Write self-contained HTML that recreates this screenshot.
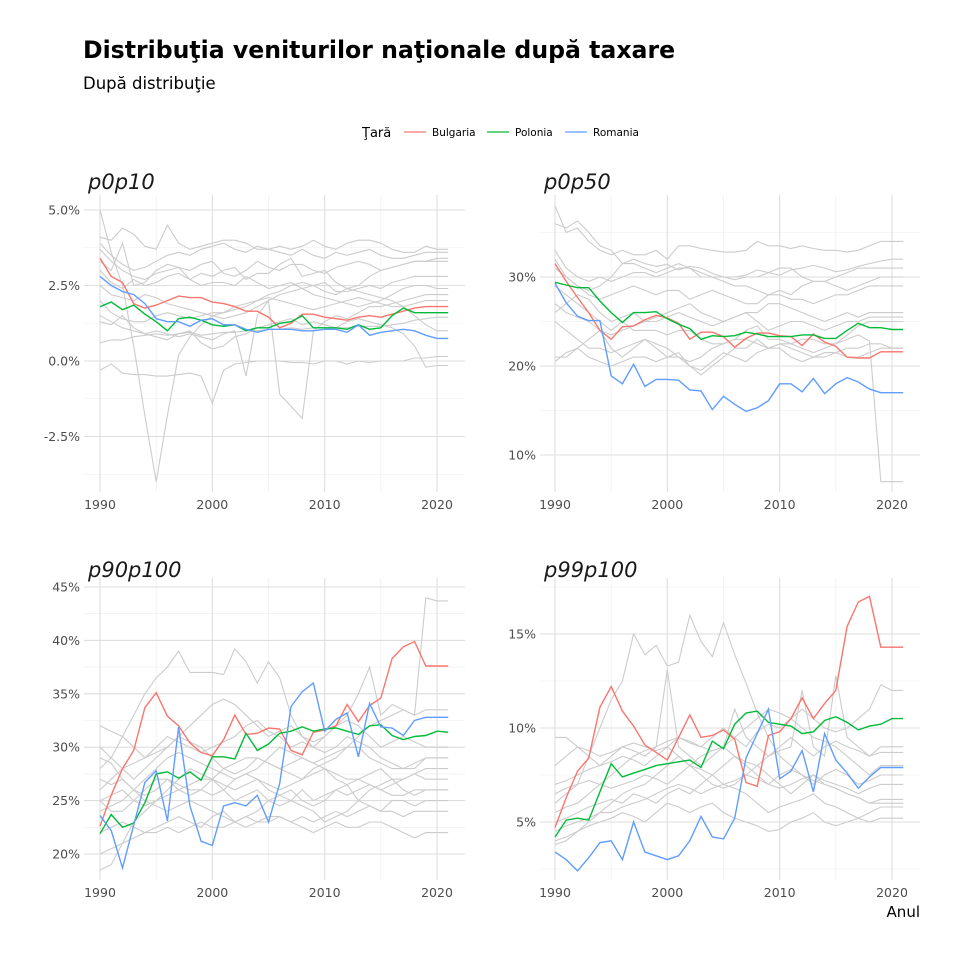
<!DOCTYPE html>
<html><head><meta charset="utf-8"><style>
body{margin:0;background:#fff;font-family:"Liberation Sans","DejaVu Sans",sans-serif}
svg text{font-family:"DejaVu Sans","Liberation Sans",sans-serif}
</style></head><body>
<svg id="c" width="960" height="960" viewBox="0 0 960 960" xmlns="http://www.w3.org/2000/svg">
<text x="83" y="58" font-size="23.6" font-weight="bold" fill="#000">Distribuţia veniturilor naţionale după taxare</text>
<text x="83" y="89" font-size="16.5" fill="#000">După distribuţie</text>
<g>
<text x="362" y="137" font-size="13" fill="#000">Ţară</text>
<line x1="404" y1="132" x2="426" y2="132" stroke="#F8766D" stroke-width="1.3"/>
<text x="432" y="136" font-size="10.5">Bulgaria</text>
<line x1="487" y1="132" x2="509" y2="132" stroke="#00BA38" stroke-width="1.3"/>
<text x="515" y="136" font-size="10.5">Polonia</text>
<line x1="565" y1="132" x2="587" y2="132" stroke="#619CFF" stroke-width="1.3"/>
<text x="593" y="136" font-size="10.5">Romania</text>
</g>
<text x="920" y="917" font-size="15" text-anchor="end">Anul</text>
</svg>
<script>
const years=[1990,1991,1992,1993,1994,1995,1996,1997,1998,1999,2000,2001,2002,2003,2004,2005,2006,2007,2008,2009,2010,2011,2012,2013,2014,2015,2016,2017,2018,2019,2020,2021];
const xTicks=[1990,2000,2010,2020];
// p0p10
const p1Ticks=[5,2.5,0,-2.5];
const p1Labels=["5.0%","2.5%","0.0%","-2.5%"];
const p1Bulgaria=[3.4,2.8,2.6,1.9,1.75,1.85,2.0,2.15,2.1,2.1,1.95,1.9,1.8,1.65,1.65,1.45,1.1,1.25,1.55,1.55,1.45,1.4,1.35,1.45,1.5,1.45,1.55,1.65,1.75,1.8,1.8,1.8];
const p1Polonia=[1.8,1.95,1.7,1.85,1.55,1.3,1.0,1.4,1.45,1.35,1.2,1.15,1.2,1.0,1.1,1.1,1.25,1.3,1.5,1.1,1.1,1.1,1.05,1.2,1.05,1.1,1.5,1.75,1.6,1.6,1.6,1.6];
const p1Romania=[2.8,2.5,2.3,2.2,1.9,1.4,1.3,1.3,1.15,1.35,1.4,1.2,1.2,1.05,0.95,1.05,1.05,1.05,1.0,1.0,1.05,1.05,0.95,1.2,0.85,0.95,1.0,1.05,1.0,0.85,0.75,0.75];
const p1Others=[
[5.0,3.6,2.5,0.5,-1.8,-4.0,-1.8,0.2,0.8,1.2,1.5,1.6,1.7,1.8,2.0,2.2,2.3,2.5,2.6,2.5,2.3,2.2,2.4,2.3,2.2,2.1,2.0,1.8,1.5,1.2,1.0,1.0],
[-0.3,-0.1,-0.4,-0.45,-0.45,-0.5,-0.5,-0.45,-0.4,-0.5,-1.4,-0.3,-0.1,-0.05,0,0,0,-0.05,-0.05,-0.1,0,0,-0.1,0,-0.05,0,0,0,0.1,0.1,0.15,0.15],
[1.5,1.3,1.1,1.0,0.9,1.0,0.9,0.8,0.9,0.8,0.7,0.9,1.0,-0.5,1.5,2.0,-1.1,-1.5,-1.9,1.0,1.3,1.5,1.4,1.6,1.8,1.8,1.9,2.0,2.1,2.2,2.2,2.2],
[4.1,4.0,4.4,4.2,3.8,3.7,4.5,3.9,3.7,3.8,3.9,4.0,4.0,3.9,3.7,3.7,3.8,3.7,3.8,4.0,3.8,3.7,3.9,4.0,4.0,3.9,3.7,3.6,3.6,3.8,3.7,3.7],
[3.9,3.5,3.2,3.0,3.1,3.3,3.5,3.6,3.5,3.7,3.8,3.9,3.7,3.6,3.8,3.7,3.6,3.5,3.7,3.5,3.4,3.6,3.5,3.6,3.7,3.5,3.4,3.4,3.5,3.6,3.6,3.6],
[3.7,3.3,3.0,2.8,2.7,2.9,3.0,3.1,3.0,3.2,3.3,2.9,2.8,3.0,3.3,3.1,3.0,3.2,3.2,3.0,2.9,3.1,3.2,3.3,3.2,3.0,3.1,3.2,3.3,3.3,3.3,3.3],
[3.0,2.6,2.4,2.7,2.5,2.6,2.8,2.9,2.7,2.5,2.6,2.6,2.5,2.8,2.6,2.4,2.5,2.6,2.4,2.5,2.6,2.3,2.3,2.4,2.5,2.4,2.6,2.7,2.8,2.8,2.8,2.8],
[2.5,2.2,2.1,2.0,2.2,2.1,1.9,1.8,1.7,1.6,1.5,1.4,1.5,1.6,1.8,2.0,2.2,2.3,2.4,2.2,2.1,2.0,1.9,1.8,1.9,2.0,2.2,2.4,2.5,2.5,2.4,2.4],
[1.3,1.2,1.5,1.1,0.9,0.8,0.7,0.9,1.0,0.6,0.4,0.5,0.8,0.9,1.1,1.2,1.3,1.4,1.2,1.3,1.2,1.1,1.3,1.4,1.3,1.2,1.1,0.9,0.5,-0.2,-0.15,-0.15],
[0.6,0.7,0.7,0.8,0.85,0.9,0.85,0.9,0.95,0.85,0.9,0.95,0.95,1.0,1.0,1.05,1.05,1.1,1.05,1.1,1.1,1.1,1.1,1.15,1.15,1.15,1.2,1.25,1.35,1.4,1.45,1.45],
[3.3,3.0,3.9,2.5,2.6,3.0,3.2,3.1,2.7,2.9,2.8,3.0,3.1,2.7,2.9,2.9,3.2,3.4,2.8,2.9,3.0,2.6,2.4,2.5,2.8,3.0,3.1,3.2,3.3,3.3,3.4,3.4],
[2.0,1.6,1.4,1.3,1.3,1.5,1.6,1.5,1.4,1.5,1.6,1.6,1.8,1.9,2.0,2.1,2.0,1.9,1.8,1.7,1.8,1.9,2.0,2.1,2.0,1.9,1.8,1.8,1.9,2.0,2.0,2.0]];
// p0p50
const p2Ticks=[30,20,10];
const p2Labels=["30%","20%","10%"];
const p2Bulgaria=[31.5,29.5,27.7,26,24,23,24.4,24.5,25.2,25.7,25.4,24.8,23,23.8,23.8,23.3,22.1,23.1,23.7,23.7,23.4,23.3,22.3,23.6,22.7,22.2,21,20.9,20.9,21.6,21.6,21.6];
const p2Polonia=[29.4,29.1,28.8,28.8,27.3,26,24.9,26,26,26.1,25.3,24.7,24.2,23,23.4,23.3,23.4,23.8,23.6,23.3,23.3,23.3,23.5,23.5,23.1,23.1,24,24.8,24.3,24.3,24.1,24.1];
const p2Romania=[29.3,27.1,25.6,25.1,25.1,18.9,18,20.2,17.7,18.5,18.5,18.4,17.3,17.2,15.1,16.6,15.7,14.9,15.3,16.1,18,18,17.1,18.6,16.9,18,18.7,18.2,17.4,17,17,17];
const p2Others=[
[29,28,27,26,25,24,25,24,24,24,23.5,24,24,23,22.5,22.5,23,23,22.5,22,22.5,22.5,23,23,22.5,22.5,23,23.5,22.8,7,7,7],
[38,35,35.5,34,33,32.5,33,32.5,32.5,33,32,33.5,33.5,33.2,33,32.8,32.8,33,34,33.5,33.5,33.2,33.5,33.2,33,33,32.8,33,33.5,34,34,34],
[36,35.5,36.3,35,33.5,33,31.5,32,31.5,31.2,31.4,30.8,31.2,31,30.4,30,30,30.2,30.8,30.5,30.2,30.8,31,31.3,31,30.6,30.8,31.2,31.5,31.8,32,32],
[33,31,30,29.5,30,29.5,30,30.5,30.5,30,30.5,31,31,30,30,30,29.7,30,30,30.5,31,31,30,29.5,29.5,30,30.5,31,31,31,31,31],
[32,30,29,28,27.5,28,28.5,29,28.5,28,28.5,28.5,27.5,28,28.5,28,27.5,27,27,28,28,27.5,27.5,27,27.5,28,28,28.5,29,29,29,29],
[26,27,28,27.5,26,25,25.5,26,25,25,25.5,26,25.5,25,24.5,25,25.5,26,26,27,27,26.5,26,25.5,25,25.5,26,25.5,26,26,26,26],
[25,24,23,22,22,21.5,22,22.5,23,22.5,22,21,20.5,21,22,22.5,23,24,24.5,23,23,22.5,22,21.5,22,22.5,23.5,24.5,25,25,25,25],
[20.5,21.5,22,21,20.5,20,20.5,21,21,20.5,21,21.5,20,19.5,20.5,21.5,21,20.5,21.5,22,22.5,22,21.5,21,21.5,21.5,21,21,21.5,22,22,22],
[21,21,22,23,24,22,21,22,23,22,21,21,20,19,20,21,22,22,23,22,22,21,20.5,21,21,21.5,22,22,22.5,22.5,22,22],
[31,30,29,28.5,29,30,31.5,31.5,31,30.5,31,31.5,31,30.5,30,29.5,29,29,28.5,28,28.5,28,29,29.5,29.5,29,28.5,29,29.5,30,30,30],
[27,26,25.5,25,24,23.5,24,24.5,25,25.5,26,26.5,27,26,25.5,25,25.5,26,25,24,24.5,25,25,24.5,24,24.5,25,25,25.5,25.5,25.5,25.5]];
// p90p100
const p3Ticks=[45,40,35,30,25,20];
const p3Labels=["45%","40%","35%","30%","25%","20%"];
const p3Bulgaria=[22.6,25.5,28,29.7,33.7,35.1,32.9,32,30.4,29.5,29.2,30.7,33,31.2,31.3,31.8,31.7,29.7,29.3,31.4,31.6,32,34,32.4,33.9,34.6,38.3,39.4,39.9,37.6,37.6,37.6];
const p3Polonia=[21.9,23.7,22.5,22.9,24.8,27.5,27.7,27.1,27.7,26.9,29.1,29.1,28.9,31.3,29.7,30.3,31.3,31.5,31.9,31.5,31.7,31.8,31.5,31.2,32,32.1,31.1,30.7,31,31.1,31.5,31.4];
const p3Romania=[23.6,22.2,18.7,22.7,26.7,27.8,23.1,31.9,24.5,21.2,20.8,24.5,24.8,24.5,25.5,23,26.6,33.8,35.2,36,31.5,32.6,33.2,29.1,34.1,31.9,31.8,31.1,32.5,32.8,32.8,32.8];
const p3Others=[
[25,25.5,26,25,24.5,25,26,27,28,27.5,27,28,28.5,29,29,28.5,28,28.5,29,28.5,29,29.5,30,31,32,32.5,33,33.5,33,44,43.7,43.7],
[28,29,31,33,35,36.5,37.5,39,37,37,37,36.8,39.2,38,36,38,36.5,33,31,30,31,32,33,35,37.5,33,34,33.5,33,33.5,33.5,33.5],
[32,31.5,31,30,29,29.5,30,31,32,33,34,34.5,34,33,32,31,31.5,32,31,30.5,31,32,32.5,32,31,30,30.5,31,30.5,30,30,30],
[30,29,28,27,28,29,30,31,30.5,30,29,28,27.5,28,29,28.5,28,27.5,27,28,28.5,29,30,30,29,28.5,28,28,28.5,29,29,29],
[27,26.5,27,26,25.5,26,27,26.5,26,26,25.5,26,27,27.5,27,26.5,26,26.5,27,27.5,28,27,26.5,27,27.5,28,27,27,27.5,28,28,28],
[25,24,24,25,26,27,27,26,25.5,26,27,26,25,25.5,26,25,24.5,25,26,25,25.5,26,26.5,25,26,26.5,27,26,25.5,26,26,26],
[22,22.5,23,22.5,22,22.5,23,23.5,23,22.5,23.5,24,23,23.5,23,23,23.5,23,23.5,23,23.5,24,23.5,24,24.5,24,24,23.5,24,24,24,24],
[20,20.5,21,21.5,22,22,22.5,22,22.5,23,22.5,22.5,23,22.5,23,23.5,23.5,23,22.5,22,22.5,23,22.5,22.5,23,23,22.5,22,21.5,22,22,22],
[18.5,19,21,23,24,25,25.5,26,26.5,27,27,26.5,26,26.5,27,26,25.5,26,25,24.5,25,26,25.5,26,26.5,26,25.5,25.5,26,26,26,26],
[26,27,28,28.5,29,30,31,30.5,30,29.5,30,30.5,31,32,32.5,31.5,31,30,30.5,30,29.5,30,31,30.5,30,29,28.5,28,28,29,29,29],
[24,24.5,25,26,27,28,29,29.5,29,28.5,28,27.5,27,27.5,28,29,30,29.5,29,28.5,28,27.5,27,27,26.5,26,26.5,27,27.5,27,27,27],
[29,28.5,27,26,25,24.5,24,24.5,25,24.5,24,23.5,23,23.5,24,25,25.5,25,24.5,24,23,23.5,24,25,24.5,24,25,25,24.5,25,25,25]];
// p99p100
const p4Ticks=[15,10,5];
const p4Labels=["15%","10%","5%"];
const p4Bulgaria=[4.7,6.3,7.7,8.4,11.1,12.2,10.9,10.1,9.1,8.7,8.3,9.5,10.7,9.5,9.6,9.9,9.4,7.1,6.9,9.6,9.8,10.5,11.6,10.5,11.3,12,15.4,16.7,17,14.3,14.3,14.3];
const p4Polonia=[4.2,5.1,5.2,5.1,6.6,8.1,7.4,7.6,7.8,8,8.1,8.2,8.3,7.9,9.3,8.9,10.2,10.8,10.9,10.3,10.2,10.1,9.7,9.8,10.4,10.6,10.3,9.9,10.1,10.2,10.5,10.5];
const p4Romania=[3.4,3,2.4,3.1,3.9,4,3,5,3.4,3.2,3,3.2,4,5.3,4.2,4.1,5.2,8.4,9.7,11,7.3,7.7,8.8,6.6,9.7,8.3,7.6,6.8,7.4,7.9,7.9,7.9];
const p4Others=[
[6,6.5,7,8.5,10,11.5,12.5,15,13.9,14.4,13.3,13.5,16,14.6,13.8,15.6,13.9,12.4,10.8,9.5,8.5,8,7.5,7.2,7,6.8,6.5,6.3,6,6,6,6],
[9.5,9.5,9,8.8,8.5,8.7,9,9.2,9,8.8,9,9.5,9.2,9,9.5,10,9.5,9,9.8,10.2,10,10.5,11,10.5,10,9.8,10,10.5,11,12.3,12,12],
[8,8.5,9,8.5,8,8.5,9,8.8,8.5,9,13.1,9,8.5,8,8.5,9,11,9.5,9,8.5,8.8,9,12,9,8.5,12.8,9.5,9,8.5,9,9,9],
[7,7.2,7.5,7.8,8,8.2,8.5,8.3,8,8.5,9,8.5,8,8.5,8.8,9,8.5,8.2,8,8.5,9,9.5,9,8.5,9,9.3,9,8.8,8.5,8.7,8.7,8.7],
[6.5,6.8,7,7.2,7,6.8,7,7.2,7.5,7.3,7,7.5,8,7.8,7.5,8,8.5,8,7.5,7,7.5,7.8,7.5,7,7.5,7.8,7.5,7,7.2,7.5,7.5,7.5],
[5,5.2,5.5,5.8,6,6.2,6,6.5,6.3,6,6.5,6.8,6.5,7,7.5,7,6.8,6.5,6,5.5,5.8,6,6.2,6.5,6,5.8,5.5,5.2,5.5,5.8,5.8,5.8],
[4,4.2,4.5,4.8,5,5.2,5.5,5.3,5,5.5,6,5.8,5.5,5.8,6,5.5,5.2,5,4.8,4.5,4.6,5,5.2,5.5,5,4.8,5,5.2,5,5.2,5.2,5.2],
[3.8,4,4.5,5,5.5,6,6.5,6.8,7,7.5,8,8.5,8,7.5,7,6.8,7,7.5,8,7.5,7,6.5,7,7.5,7,6.8,6.5,6.3,6,6.2,6.2,6.2],
[5.5,5.8,6,6.5,7,7.5,8,8.5,8.8,9,9.3,9.5,9.3,9,8.8,9,9.5,10,10.5,11,10.8,10.5,10,9.5,9.3,9,8.5,8,7.5,8,8,8],
[4.5,4.8,5,5.2,5.5,5.5,5.8,6,6.2,6.5,6.8,7,6.8,6.5,6.8,7,7.2,7.5,7.3,7,6.8,7,7.3,7.5,7.2,7,6.8,6.5,6.8,7,7,7]];

const NS="http://www.w3.org/2000/svg";
const svg=document.getElementById('c');
function mk(tag,attrs,parent){const e=document.createElementNS(NS,tag);for(const k in attrs)e.setAttribute(k,attrs[k]);(parent||svg).appendChild(e);return e;}

const panels=[
 {name:'p0p10',L:84,R:465,T:195,B:492,x0:100,x1:437,v0:0,y0:361,k:30.2,ticks:p1Ticks,labels:p1Labels,minor:[3.75,1.25,-1.25,-3.75],bg:p1Bulgaria,pl:p1Polonia,ro:p1Romania,oth:p1Others,ty:181},
 {name:'p0p50',L:540,R:920,T:195,B:492,x0:555,x1:892,v0:20,y0:366,k:8.9,ticks:p2Ticks,labels:p2Labels,minor:[35,25,15],bg:p2Bulgaria,pl:p2Polonia,ro:p2Romania,oth:p2Others,ty:181},
 {name:'p90p100',L:84,R:465,T:578,B:880,x0:100,x1:437,v0:20,y0:854,k:10.68,ticks:p3Ticks,labels:p3Labels,minor:[42.5,37.5,32.5,27.5,22.5],bg:p3Bulgaria,pl:p3Polonia,ro:p3Romania,oth:p3Others,ty:569},
 {name:'p99p100',L:540,R:920,T:578,B:880,x0:555,x1:892,v0:5,y0:822,k:18.8,ticks:p4Ticks,labels:p4Labels,minor:[17.5,12.5,7.5,2.5],bg:p4Bulgaria,pl:p4Polonia,ro:p4Romania,oth:p4Others,ty:569}
];
panels.forEach(p=>{
 const g=mk('g',{});
 
 
 const xs=y=>p.x0+(y-1990)*(p.x1-p.x0)/30;
 const ys=v=>p.y0-(v-p.v0)*p.k;
 const t=mk('text',{x:p.L+4,y:p.ty+8,'font-size':21,'font-style':'italic',fill:'#1a1a1a'},g);
 t.textContent=p.name;
 
 
 p.minor.forEach(v=>{const y=ys(v);if(y>p.T&&y<p.B){const l=mk('line',{x1:p.L,x2:p.R,y1:y,y2:y,stroke:'#ececec','stroke-width':0.6},g);
 
 }});
 [1995,2005,2015].forEach(yr=>{const l=mk('line',{x1:xs(yr),x2:xs(yr),y1:p.T,y2:p.B,stroke:'#ececec','stroke-width':0.6},g);
 
 });
 p.ticks.forEach((v,i)=>{const y=ys(v);const l=mk('line',{x1:p.L,x2:p.R,y1:y,y2:y,stroke:'#dedede','stroke-width':1.1},g);
 
 
 const tx=mk('text',{x:p.L-4,y:y+4.5,'font-size':12.5,'text-anchor':'end',fill:'#4d4d4d'},g);
 tx.textContent=p.labels[i];
 
 });
 xTicks.forEach(yr=>{const l=mk('line',{x1:xs(yr),x2:xs(yr),y1:p.T,y2:p.B,stroke:'#dedede','stroke-width':1.1},g);
 
 
 const tx=mk('text',{x:xs(yr),y:p.B+17,'font-size':12.5,'text-anchor':'middle',fill:'#4d4d4d'},g);
 tx.textContent=yr;
 
 });
 const path=arr=>arr.map((v,i)=>(i?'L':'M')+xs(years[i]).toFixed(1)+','+ys(v).toFixed(1)).join('');
 p.oth.forEach(a=>{const l=mk('path',{d:path(a),fill:'none',stroke:'#cccccc','stroke-width':1.1},g);
 
 });
 [['bulgaria',p.bg,'#F8766D'],['polonia',p.pl,'#00BA38'],['romania',p.ro,'#619CFF']].forEach(s=>{
  const l=mk('path',{d:path(s[1]),fill:'none',stroke:s[2],'stroke-width':1.4},g);
  
  });
});
</script>
</body></html>
